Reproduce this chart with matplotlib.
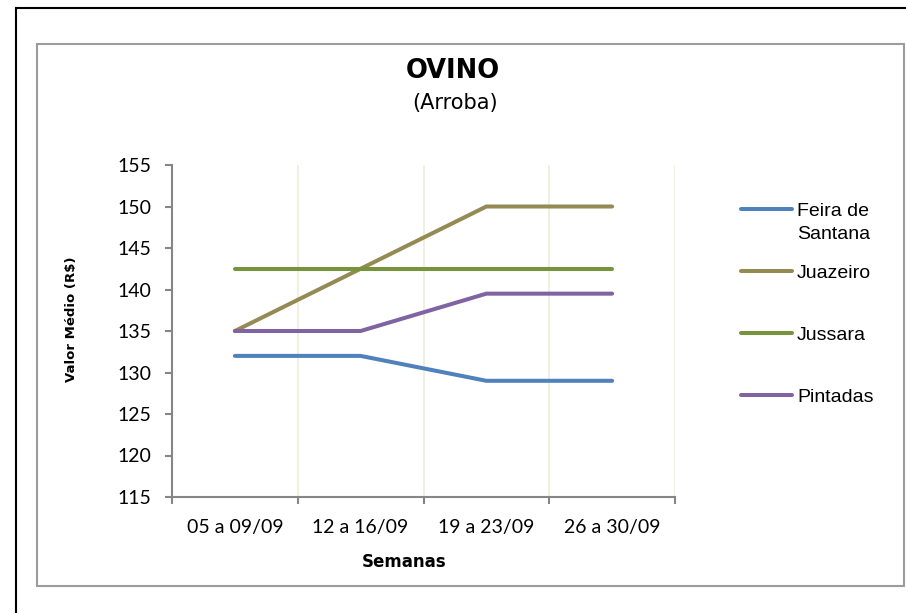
import matplotlib
matplotlib.use("Agg")
import matplotlib.pyplot as plt
from matplotlib.lines import Line2D
from matplotlib.patches import Rectangle

# dados
semanas = ['05 a 09/09', '12 a 16/09', '19 a 23/09', '26 a 30/09']
feira = [132, 132, 129, 129]
juazeiro = [135, 142.5, 150, 150]
jussara = [142.5, 142.5, 142.5, 142.5]
pintadas = [135, 135, 139.5, 139.5]

nomes = ['Feira de\nSantana', 'Juazeiro', 'Jussara', 'Pintadas']
series = [feira, juazeiro, jussara, pintadas]
cores = ['#4F81BD', '#948A54', '#77933C', '#8064A2']

W, H = 906, 613


def px(x, y):
    # pixel da imagem -> fracao da figura
    return x / W, 1 - y / H


fig = plt.figure(figsize=(W / 100, H / 100), dpi=100)

# molduras
fig.add_artist(Line2D([16 / W, 16 / W], [0, px(0, 8)[1]], color='black', lw=1.5,
                      transform=fig.transFigure))
fig.add_artist(Line2D([16 / W, 1], [px(0, 8)[1]] * 2, color='black', lw=1.5,
                      transform=fig.transFigure))
x0, y0 = px(37, 586)
x1, y1 = px(904, 44)
fig.add_artist(Rectangle((x0, y0), x1 - x0, y1 - y0, fill=False, ec='#9C9C9C', lw=1.5,
                         transform=fig.transFigure))

l, t = px(172, 165)
r, b = px(675, 497)
ax = fig.add_axes([l, b, r - l, t - b])

xs = list(range(len(semanas)))
for vals, cor in zip(series, cores):
    ax.plot(xs, vals, color=cor, lw=2.9, solid_capstyle='round', zorder=3)

ax.set_xlim(-0.5, len(semanas) - 0.5)
ax.set_ylim(115, 155)
ax.set_yticks(range(115, 156, 5))
ax.set_xticks([i - 0.5 for i in range(len(semanas) + 1)])
ax.set_xticklabels([])
ax.set_xticks(xs, minor=True)
ax.set_xticklabels(semanas, minor=True, family='Lato', fontsize=14)
ax.tick_params(axis='x', which='minor', length=0, pad=16)
ax.tick_params(axis='x', which='major', length=5, color='#868686', width=1.5)
ax.tick_params(axis='y', length=5, color='#868686', width=1.5, pad=10)
for lab in ax.get_yticklabels():
    lab.set_family('Lato')
    lab.set_fontsize(14)

for s in ['top', 'right']:
    ax.spines[s].set_visible(False)
for s in ['left', 'bottom']:
    ax.spines[s].set_color('#868686')
    ax.spines[s].set_linewidth(1.5)

for xv in [i + 0.5 for i in range(len(semanas))]:
    ax.axvline(xv, color='#EEEEDC', lw=1.2, zorder=1)

# titulos
fig.text(*px(453, 71), 'OVINO', ha='center', va='center', fontsize=18.5,
         fontweight='heavy', family='DejaVu Sans')
fig.text(*px(455, 103), '(Arroba)', ha='center', va='center', fontsize=15,
         family='DejaVu Sans')
fig.text(*px(404, 562), 'Semanas', ha='center', va='center', fontsize=12,
         fontweight='heavy', family='DejaVu Sans')
fig.text(*px(72, 319), 'Valor Médio (R$)', ha='center', va='center', fontsize=9.5,
         fontweight='heavy', rotation=90, family='DejaVu Sans')

# legenda
leg_y = [209, 271, 333, 395]
for nome, cor, yy in zip(nomes, cores, leg_y):
    fig.add_artist(Line2D([741 / W, 792 / W], [px(0, yy)[1]] * 2, color=cor, lw=2.9,
                          solid_capstyle='round', transform=fig.transFigure))
    for k, linha in enumerate(nome.split('\n')):
        fig.text(*px(797, yy + 7 + 23 * k), linha, ha='left', va='baseline',
                 fontsize=14, family='Liberation Sans')

fig.savefig('out.png', dpi=100)
